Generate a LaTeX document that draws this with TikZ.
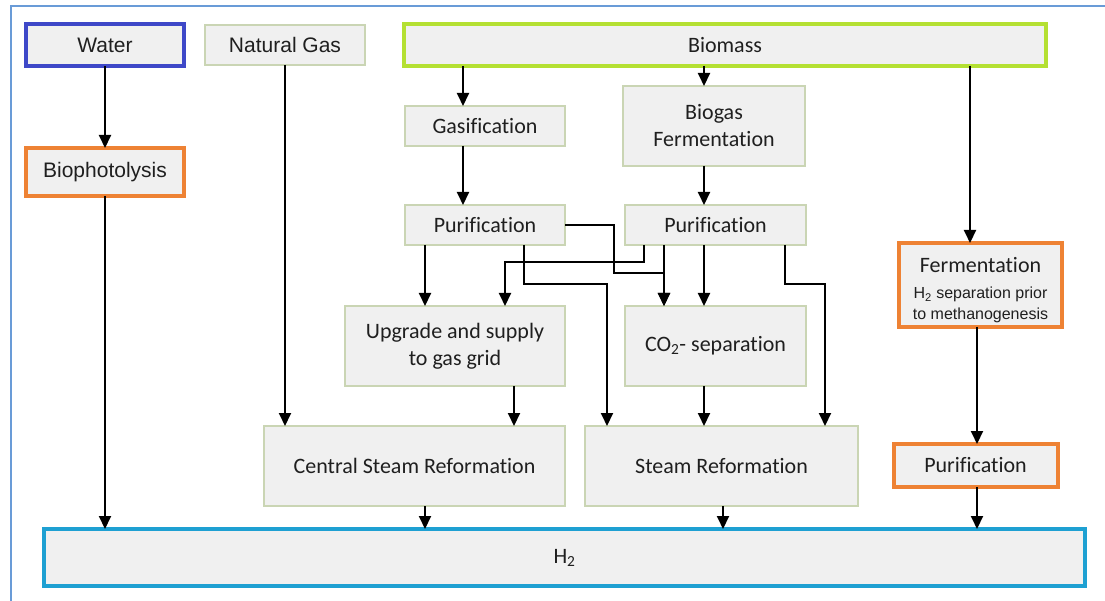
\documentclass[tikz,border=0pt]{standalone}
\usepackage{fontspec}
\setmainfont{Carlito}[Ligatures=NoCommon]
\newfontfamily\arialfont{Liberation Sans}
\usetikzlibrary{arrows.meta, positioning, calc}
\definecolor{boxfill}{RGB}{240,240,240}
\definecolor{boxline}{RGB}{202,213,180}
\definecolor{waterblue}{RGB}{62,72,200}
\definecolor{biolime}{RGB}{180,224,50}
\definecolor{procorange}{RGB}{238,130,52}
\definecolor{hcyan}{RGB}{30,160,210}
\definecolor{framecol}{RGB}{105,155,215}
\newcommand\arialbig{\arialfont\fontsize{21}{25}\selectfont}
\newcommand\subfont{\arialfont\fontsize{16}{20}\selectfont}
\tikzset{
    block/.style={rectangle, draw=boxline, line width=1.5pt, fill=boxfill, text=black!88, align=center, inner sep=0pt, outer sep=0pt, font=\fontsize{22}{27}\selectfont},
    block_blue/.style={block, draw=waterblue, line width=4pt},
    block_lime/.style={block, draw=biolime, line width=4pt},
    block_orange/.style={block, draw=procorange, line width=4pt},
    block_cyan/.style={block, draw=hcyan, line width=4pt},
    arrow/.style={-{Triangle[width=12pt,length=13pt]}, line width=2pt},
    framebox/.style={draw=framecol, line width=2pt}
}
\begin{document}
\begin{tikzpicture}[x=1pt, y=-1pt, node distance=20pt]
            \useasboundingbox (0,0) rectangle (1105,601);
            \draw [framebox] (11,601) |- (1105,6);

            \node (water) [block_blue, font=\arialbig, minimum width=158pt, minimum height=42pt] at (105,45) {Water};
            \node (gas) [block, font=\arialbig, right=21pt of water, minimum width=160pt, minimum height=40pt] {Natural Gas};
            \node (biomass) [block_lime, right=39pt of gas, minimum width=642pt, minimum height=42pt] {Biomass};
            \node (photo) [block_orange, font=\arialbig, below=82pt of water, minimum width=158pt, minimum height=48pt] {Biophotolysis};

            \node (gasif) [block, below right=40pt and 1pt of biomass.south west, minimum width=160pt, minimum height=40pt] {Gasification};
            \node (biogas) [block, right=58pt of gasif, minimum width=182pt, minimum height=80pt] {Biogas\\Fermentation};
            \node (purif_l) [block, below=59pt of gasif, minimum width=160pt, minimum height=40pt] {Purification};
            \node (purif_r) [block, right=60pt of purif_l, minimum width=181pt, minimum height=40pt] {Purification};
            \node (upgrade) [block, below left=61pt and 0pt of purif_l.south east, minimum width=220pt, minimum height=80pt] {Upgrade and supply\\to gas grid};
            \node (co2) [block, below=61pt of purif_r, minimum width=181pt, minimum height=80pt] {CO\textsubscript{2}- separation};
            \node (csr) [block, below left=40pt and 0pt of upgrade.south east, minimum width=301pt, minimum height=80pt] {Central Steam Reformation};
            \node (sr) [block, right=20pt of csr, minimum width=273pt, minimum height=80pt] {Steam Reformation};

            \node (ferm) [block_orange, minimum width=163pt, minimum height=84pt] at (980.5,285) {\rule{0pt}{26pt}Fermentation\\[-1pt]\subfont H\textsubscript{2} separation prior\\[-6pt]\subfont to methanogenesis};
            \node (purif_o) [block_orange, below=117pt of ferm, xshift=-5pt, minimum width=164pt, minimum height=43pt] {Purification};
            \node (h2) [block_cyan, minimum width=1041pt, minimum height=57pt] at (564.5,557.5) {H\textsubscript{2}};

            % vertical lanes and jog levels
            \coordinate (lane_a) at (425,0);
            \coordinate (lane_b) at (505,0);
            \coordinate (lane_c) at (514,0);
            \coordinate (lane_d) at (524,0);
            \coordinate (lane_e) at (607,0);
            \coordinate (lane_f) at (614,0);
            \coordinate (lane_g) at (463,0);
            \coordinate (lane_h) at (644,0);
            \coordinate (lane_i) at (664,0);
            \coordinate (lane_j) at (704,0);
            \coordinate (lane_k) at (723,0);
            \coordinate (lane_l) at (785,0);
            \coordinate (lane_m) at (825,0);
            \coordinate (lane_n) at (970,0);
            \coordinate (lane_o) at (977,0);
            \coordinate (row_a) at (0,262);
            \coordinate (row_b) at (0,273);
            \coordinate (row_c) at (0,284);

            \draw [arrow] (water) -- (photo);
            \draw [arrow] (photo.south) -- (photo.south |- h2.north);
            \draw [arrow] (gas.south) -- (gas.south |- csr.north);
            \draw [arrow] (biomass.south -| lane_g) -- (gasif.north -| lane_g);
            \draw [arrow] (gasif.south -| lane_g) -- (purif_l.north -| lane_g);
            \draw [arrow] (biomass.south -| lane_j) -- (biogas.north -| lane_j);
            \draw [arrow] (biogas.south -| lane_j) -- (purif_r.north -| lane_j);
            \draw [arrow] (biomass.south -| lane_n) -- (ferm.north -| lane_n);
            \draw [arrow] (ferm.south -| lane_o) -- (purif_o.north -| lane_o);
            \draw [arrow] (purif_o.south -| lane_o) -- (h2.north -| lane_o);

            \draw [arrow] (purif_l.south -| lane_a) -- (upgrade.north -| lane_a);
            \draw [arrow] (purif_l.east) -| (lane_f |- row_b) -| (co2.north -| lane_i);
            \draw [arrow] (purif_l.south -| lane_d) |- (row_c -| lane_e) -- (sr.north -| lane_e);
            \draw [arrow] (purif_r.south -| lane_h) |- (row_a -| lane_b) -- (upgrade.north -| lane_b);
            \draw [arrow] (purif_r.south -| lane_i) -- (co2.north -| lane_i);
            \draw [arrow] (purif_r.south -| lane_j) -- (co2.north -| lane_j);
            \draw [arrow] (purif_r.south -| lane_l) |- (row_c -| lane_m) -- (sr.north -| lane_m);

            \draw [arrow] (upgrade.south -| lane_c) -- (csr.north -| lane_c);
            \draw [arrow] (co2.south -| lane_j) -- (sr.north -| lane_j);
            \draw [arrow] (csr.south -| lane_a) -- (h2.north -| lane_a);
            \draw [arrow] (sr.south -| lane_k) -- (h2.north -| lane_k);
\end{tikzpicture}
\end{document}
